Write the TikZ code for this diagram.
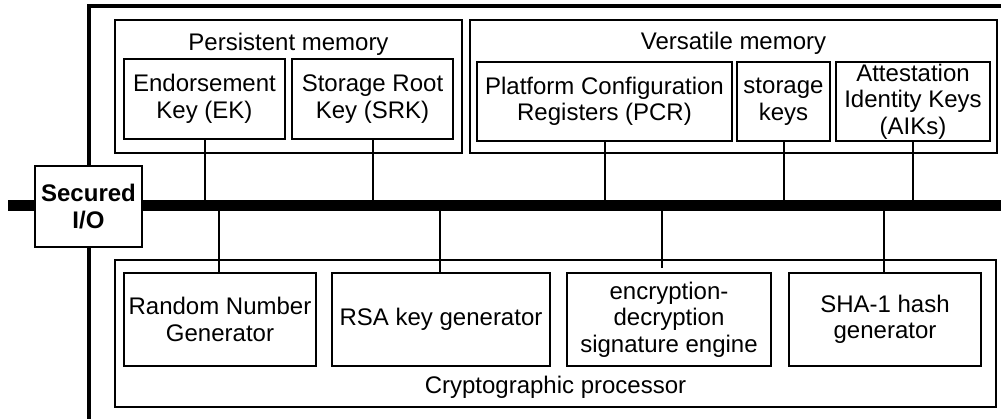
\documentclass[tikz,border=0pt]{standalone}
\usepackage{fontspec}
\setmainfont{Liberation Sans}
\usetikzlibrary{calc}
\tikzset{
  box/.style={draw, line width=1.2pt, inner sep=0pt, align=center,
    font=\fontsize{24}{26.5}\selectfont},
  group/.style={draw, line width=1.2pt, inner sep=0pt},
  wire/.style={line width=2pt},
  busline/.style={line width=11pt},
  frameline/.style={line width=4pt},
  lbl/.style={font=\fontsize{24}{26.5}\selectfont, anchor=base, inner sep=0pt}
}
\begin{document}
\begin{tikzpicture}[x=1pt, y=-1pt]
\useasboundingbox (0,0) rectangle (1001,418);
\clip (0,0) rectangle (1001,418);

% outer chip boundary
\draw[frameline] (89,6) rectangle (1030,422);

% internal bus
\coordinate (busL) at (8,205.5);
\coordinate (busR) at (1010,205.5);
\draw[busline] (busL) -- (busR);

% memory groups
\node[group, minimum width=347pt, minimum height=133pt] (persist) at (288.5,86.5) {};
\node[lbl] at (288.5,50) {Persistent memory};
\node[group, minimum width=527pt, minimum height=133pt] (vers) at (733.5,86.5) {};
\node[lbl] at (733.5,49) {Versatile memory};

\node[box, minimum width=161pt, minimum height=80pt] (ek) at (204.5,99) {Endorsement\\Key (EK)};
\node[box, minimum width=161pt, minimum height=80pt] (srk) at (372.5,99) {Storage Root\\Key (SRK)};
\node[box, minimum width=255pt, minimum height=79pt] (pcr) at (604.5,101.5) {Platform Configuration\\Registers (PCR)};
\node[box, minimum width=93pt, minimum height=79pt] (stor) at (783.5,101.5) {storage\\keys};
\node[box, minimum width=154pt, minimum height=79pt] (aik) at (913,101.5) {Attestation\\Identity Keys\\(AIKs)};

% cryptographic processor
\node[group, minimum width=881pt, minimum height=147pt] (crypto) at (555.5,333.5) {};
\node[lbl] at (555.5,393) {Cryptographic processor};

\node[box, minimum width=192pt, minimum height=93pt] (rng) at (220,319.5) {Random Number\\Generator};
\node[box, minimum width=218pt, minimum height=93pt] (rsa) at (441,319.5) {RSA key generator};
\node[box, minimum width=204pt, minimum height=93pt] (enc) at (669,319.5) {encryption-\\decryption\\signature engine};
\node[box, minimum width=192pt, minimum height=93pt] (sha) at (885,319.5) {SHA-1 hash\\generator};

% bus connections
\foreach \n in {ek,srk,pcr,stor,aik}
  \draw[wire] (\n.south) -- (\n.south |- busL);
\draw[wire] ([xshift=-1pt]rng.north |- busL) -- ([xshift=-1pt]rng.north);
\draw[wire] ([xshift=-1pt]rsa.north |- busL) -- ([xshift=-1pt]rsa.north);
\draw[wire, shorten >=4pt] ([xshift=-7pt]enc.north |- busL) -- ([xshift=-7pt]enc.north);
\draw[wire] ([xshift=-1pt]sha.north |- busL) -- ([xshift=-1pt]sha.north);

% secured I/O port on the chip boundary
\node[box, fill=white, font=\bfseries\fontsize{24}{27.5}\selectfont,
  minimum width=107pt, minimum height=81pt] (sio) at (88.5,206.5) {Secured\\I/O};
\end{tikzpicture}
\end{document}
